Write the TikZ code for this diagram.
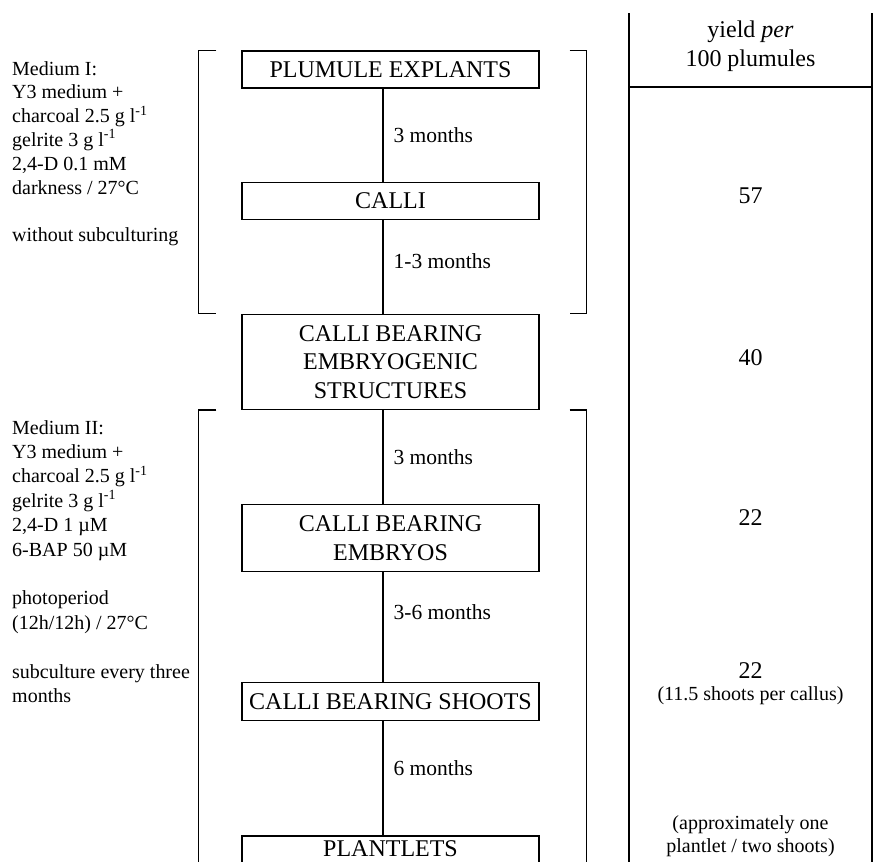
\documentclass[tikz,border=0pt]{standalone}
\usepackage{fontspec}
\setmainfont{Liberation Serif}
\usetikzlibrary{positioning}

\begin{document}
\begin{tikzpicture}[x=1pt, y=-1pt,
        node distance=94pt,
        % auto,
        every edge/.style={draw=black, line width=1.2pt},
        stage/.style={draw=black, line width=1.2pt, minimum width=297pt, minimum height=37pt, inner sep=0pt, align=center, font=\fontsize{24}{28.5}\selectfont},
        period/.style={anchor=west, inner sep=0pt, xshift=10pt, font=\fontsize{21.5}{24}\selectfont},
        medium/.style={anchor=north west, inner sep=0pt, align=left, font=\fontsize{20}{24}\selectfont},
        yieldnum/.style={inner sep=0pt, align=center, font=\fontsize{24}{29}\selectfont},
        yieldnote/.style={inner sep=0pt, align=center, font=\fontsize{20}{23}\selectfont},
        brk/.style={draw=black, line width=1.2pt},]

        \clip (0,0) rectangle (879,862);
        \coordinate (spine) at (383,0);

        \node[stage] (s_1) at (390.5,69.5) {PLUMULE EXPLANTS};
        \node[stage] (s_2) [below=93pt of s_1] {CALLI};
        \node[stage, minimum height=95pt] (s_3) [below=of s_2] {CALLI BEARING\\EMBRYOGENIC\\STRUCTURES};
        \node[stage, minimum height=67pt] (s_4) [below=of s_3] {CALLI BEARING\\EMBRYOS};
        \node[stage, minimum height=38pt] (s_5) [below=110pt of s_4] {CALLI BEARING SHOOTS};
        \node[stage, minimum height=38pt, text height=16pt, text depth=14pt] (s_6) [below=114pt of s_5] {PLANTLETS};

        \path (s_1.south -| spine) edge node[period, pos=0.5] {3 months} (s_2.north -| spine);
        \path (s_2.south -| spine) edge node[period, pos=0.44] {1-3 months} (s_3.north -| spine);
        \path (s_3.south -| spine) edge node[period, pos=0.5] {3 months} (s_4.north -| spine);
        \path (s_4.south -| spine) edge node[period, pos=0.36] {3-6 months} (s_5.north -| spine);
        \path (s_5.south -| spine) edge node[period, pos=0.41] {6 months} (s_6.north -| spine);

        % brackets round the two media
        \draw[brk] ([xshift=-25pt]s_1.north west) -- ++(-18,0) |- ([xshift=-25pt]s_3.north west);
        \draw[brk] ([xshift=30pt]s_1.north east) -- ++(17,0) |- ([xshift=30pt]s_3.north east);
        \draw[brk] ([xshift=-25pt]s_3.south west) -- ++(-18,0) -- ++(0,480);
        \draw[brk] ([xshift=30pt]s_3.south east) -- ++(17,0) -- ++(0,480);

        \node[medium, font=\fontsize{20}{23.8}\selectfont] (m_1) at (12,61) {Medium I:\\Y3 medium +\\charcoal 2.5 g l\textsuperscript{-1}\\gelrite 3 g l\textsuperscript{-1}\\2,4-D 0.1 mM\\darkness / 27°C\\[23.8pt]without subculturing};
        \node[medium, font=\fontsize{20}{24.4}\selectfont] (m_2) at (12,420) {Medium II:\\Y3 medium +\\charcoal 2.5 g l\textsuperscript{-1}\\gelrite 3 g l\textsuperscript{-1}\\2,4-D 1 µM\\6-BAP 50 µM\\[24.4pt]photoperiod\\(12h/12h) / 27°C\\[24.4pt]subculture every three\\months};

        % yield column
        \draw[brk] (629,13) -- (629,870);
        \draw[brk] (872,13) -- (872,870);
        \draw[brk] (629,87) -- (872,87);

        \node[yieldnum] (y_0) at (750.5,46) {yield \textit{per}\\100 plumules};
        \node[yieldnum] (y_2) at (750.5,196) {57};
        \node[yieldnum] (y_3) at (750.5,358) {40};
        \node[yieldnum] (y_4) at (750.5,518) {22};
        \node[yieldnum] (y_5) at (750.5,671) {22};
        \node[yieldnote] (y_5n) at (750.5,696) {(11.5 shoots per callus)};
        \node[yieldnote] (y_6n) at (750.5,836.5) {(approximately one\\plantlet / two shoots)};

    \end{tikzpicture}
\end{document}
